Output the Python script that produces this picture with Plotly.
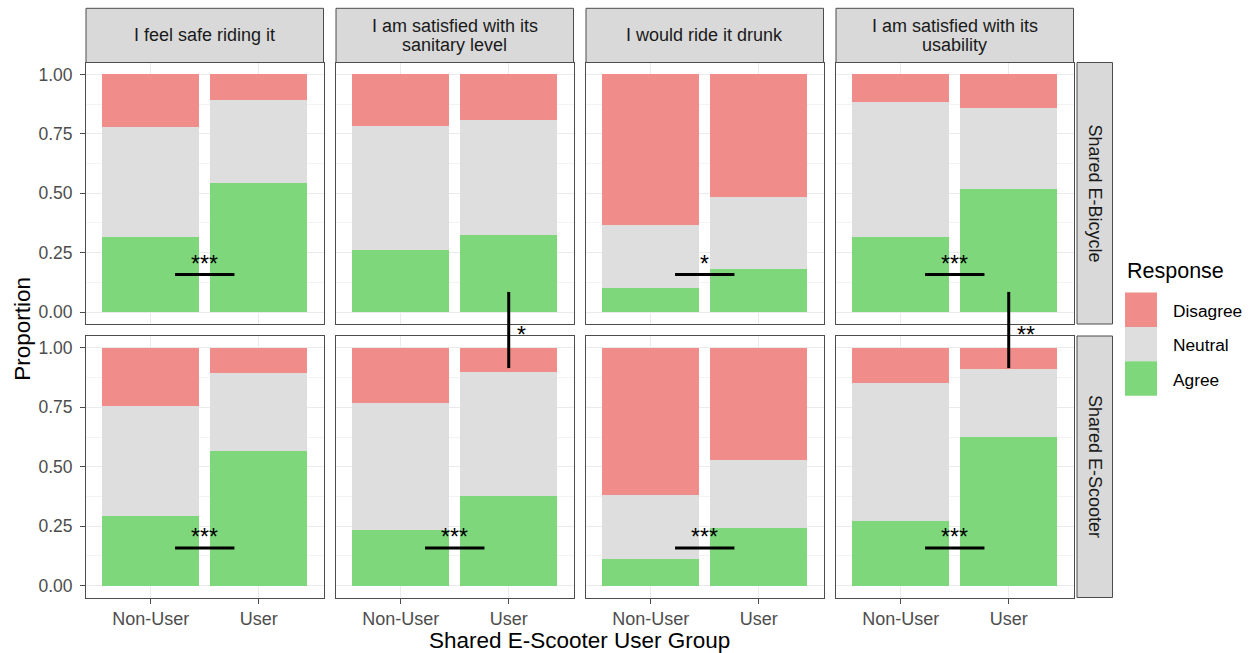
import plotly.graph_objects as go

# ---- data -------------------------------------------------------------
questions = [
    "I feel safe riding it",
    "I am satisfied with its\nsanitary level",
    "I would ride it drunk",
    "I am satisfied with its\nusability",
]
vehicles = ["Shared E-Bicycle", "Shared E-Scooter"]
groups = ["Non-User", "User"]
responses = ["Agree", "Neutral", "Disagree"]  # stacking order, bottom to top
legend_order = ["Disagree", "Neutral", "Agree"]

# proportions per question -> [Non-User, User]
agree_bicycle = [[0.318, 0.545], [0.260, 0.326], [0.102, 0.182], [0.316, 0.520]]
neutral_bicycle = [[0.461, 0.346], [0.522, 0.484], [0.265, 0.301], [0.568, 0.340]]
disagree_bicycle = [[0.221, 0.109], [0.218, 0.190], [0.633, 0.517], [0.116, 0.140]]

agree_scooter = [[0.294, 0.567], [0.232, 0.378], [0.112, 0.242], [0.272, 0.625]]
neutral_scooter = [[0.462, 0.327], [0.538, 0.522], [0.269, 0.287], [0.580, 0.285]]
disagree_scooter = [[0.244, 0.106], [0.230, 0.100], [0.619, 0.471], [0.148, 0.090]]

# significance between user groups, per question
group_sig_bicycle = ["***", "", "*", "***"]
group_sig_scooter = ["***", "***", "***", "***"]
group_sig_level = 0.158
# significance between vehicles for the User group, per question
vehicle_sig_user = ["", "*", "", "**"]
vehicle_sig_span = [0.085, 0.915]  # from bicycle panel value down to scooter panel value

y_ticks = [0.0, 0.25, 0.5, 0.75, 1.0]
y_minor = [0.125, 0.375, 0.625, 0.875]

# ---- styling ----------------------------------------------------------
colors = {"Disagree": "#F08C8A", "Neutral": "#DEDEDE", "Agree": "#7ED87B"}
FONT = "Liberation Sans, Arial, Helvetica, sans-serif"
W, H = 1250, 653
col_left = [86, 336, 586, 836]
panel_w = 237.5
row_top = [62.5, 336]
panel_h = 261.5
strip_top = 8.3
rstrip_x = (1077, 1112.5)
y_range = [-0.05, 1.05]
x_range = [-0.6, 1.6]

data = {
    "Shared E-Bicycle": {"Agree": agree_bicycle, "Neutral": neutral_bicycle, "Disagree": disagree_bicycle},
    "Shared E-Scooter": {"Agree": agree_scooter, "Neutral": neutral_scooter, "Disagree": disagree_scooter},
}
group_sig = [group_sig_bicycle, group_sig_scooter]


def px_x(x):
    return x / W


def px_y(y):
    return 1 - y / H


def to_paper(row, v):
    bottom = px_y(row_top[row] + panel_h)
    top = px_y(row_top[row])
    frac = (v - y_range[0]) / (y_range[1] - y_range[0])
    return bottom + frac * (top - bottom)


fig = go.Figure()
shapes = []
annotations = []
layout_axes = {}

for r, veh in enumerate(vehicles):
    for c, q in enumerate(questions):
        k = r * 4 + c + 1
        xname = "x" if k == 1 else f"x{k}"
        yname = "y" if k == 1 else f"y{k}"
        for resp in responses:
            fig.add_trace(go.Bar(
                x=groups,
                y=data[veh][resp][c],
                name=resp,
                marker=dict(color=colors[resp], line=dict(width=0)),
                xaxis=xname, yaxis=yname,
                showlegend=False,
                hoverinfo="skip",
            ))
        left = col_left[c]
        top = row_top[r]
        layout_axes["xaxis" if k == 1 else f"xaxis{k}"] = dict(
            type="category", range=x_range,
            domain=[px_x(left), px_x(left + panel_w)],
            anchor=yname,
            showgrid=True, gridcolor="#EBEBEB", gridwidth=1,
            showline=True, mirror=True, linecolor="#4D4D4D", linewidth=1,
            ticks="outside" if r == 1 else "", ticklen=5, tickwidth=1, tickcolor="#4D4D4D",
            showticklabels=(r == 1),
            tickfont=dict(family=FONT, size=18, color="#4D4D4D"),
            zeroline=False, fixedrange=True,
        )
        layout_axes["yaxis" if k == 1 else f"yaxis{k}"] = dict(
            range=y_range,
            domain=[px_y(top + panel_h), px_y(top)],
            anchor=xname,
            tickmode="array", tickvals=y_ticks,
            ticktext=[f"{v:.2f}" for v in y_ticks],
            showgrid=True, gridcolor="#EBEBEB", gridwidth=1,
            minor=dict(tickmode="array", tickvals=y_minor, showgrid=True,
                       gridcolor="#F3F3F3", gridwidth=0.7, ticks=""),
            showline=True, mirror=True, linecolor="#4D4D4D", linewidth=1,
            ticks="outside" if c == 0 else "", ticklen=5, tickwidth=1, tickcolor="#4D4D4D",
            showticklabels=(c == 0),
            ticklabelstandoff=4,
            tickfont=dict(family=FONT, size=17.5, color="#4D4D4D"),
            zeroline=False, fixedrange=True,
        )

        # bracket between user groups
        sig = group_sig[r][c]
        if sig:
            shapes.append(dict(type="line", xref=xname, yref=yname,
                               x0=0.225, x1=0.775, y0=group_sig_level, y1=group_sig_level,
                               line=dict(color="black", width=3)))
            annotations.append(dict(xref=xname, yref=yname, x=0.5, y=group_sig_level,
                                    text=sig, showarrow=False, yanchor="bottom",
                                    yshift=-4,
                                    font=dict(family=FONT, size=23, color="black")))

        # column strips (top row only)
        if r == 0:
            shapes.append(dict(type="rect", xref="paper", yref="paper",
                               x0=px_x(left), x1=px_x(left + panel_w),
                               y0=px_y(top), y1=px_y(strip_top),
                               fillcolor="#D9D9D9", line=dict(color="#4D4D4D", width=1),
                               layer="above"))
            lines = q.split("\n")
            mid = (strip_top + top) / 2
            step = 18.3
            for i, line in enumerate(lines):
                yy = mid + (i - (len(lines) - 1) / 2) * step
                annotations.append(dict(xref="paper", yref="paper",
                                        x=px_x(left + panel_w / 2), y=px_y(yy),
                                        text=line, showarrow=False,
                                        xanchor="center", yanchor="middle",
                                        font=dict(family=FONT, size=18, color="#1A1A1A")))

    # row strips on the right
    top = row_top[r]
    shapes.append(dict(type="rect", xref="paper", yref="paper",
                       x0=px_x(rstrip_x[0]), x1=px_x(rstrip_x[1]),
                       y0=px_y(top + panel_h), y1=px_y(top),
                       fillcolor="#D9D9D9", line=dict(color="#4D4D4D", width=1),
                       layer="above"))
    annotations.append(dict(xref="paper", yref="paper",
                            x=px_x(sum(rstrip_x) / 2), y=px_y(top + panel_h / 2),
                            text=veh, textangle=90, showarrow=False,
                            xanchor="center", yanchor="middle",
                            font=dict(family=FONT, size=18, color="#1A1A1A")))

# brackets between vehicles (User group)
for c, sig in enumerate(vehicle_sig_user):
    if not sig:
        continue
    k_top = c + 1
    xname = "x" if k_top == 1 else f"x{k_top}"
    y0 = to_paper(0, vehicle_sig_span[0])
    y1 = to_paper(1, vehicle_sig_span[1])
    shapes.append(dict(type="line", xref=xname, yref="paper",
                       x0=1, x1=1, y0=y0, y1=y1,
                       line=dict(color="black", width=3)))
    annotations.append(dict(xref=xname, yref="paper", x=1, y=(y0 + y1) / 2,
                            text=sig, showarrow=False, xanchor="left", yanchor="middle",
                            xshift=6, yshift=-5,
                            font=dict(family=FONT, size=23, color="black")))

# legend
leg_x = 1125
key_w, key_h = 32, 34.4
key_top = 292.5
annotations.append(dict(xref="paper", yref="paper", x=px_x(leg_x), y=px_y(270.5),
                        text="Response", showarrow=False, xanchor="left", yanchor="middle",
                        font=dict(family=FONT, size=21.5, color="black")))
for i, resp in enumerate(legend_order):
    t = key_top + i * key_h
    shapes.append(dict(type="rect", xref="paper", yref="paper",
                       x0=px_x(leg_x), x1=px_x(leg_x + key_w),
                       y0=px_y(t + key_h), y1=px_y(t),
                       fillcolor=colors[resp], line=dict(width=0)))
    annotations.append(dict(xref="paper", yref="paper", x=px_x(1171), y=px_y(t + key_h / 2 + 1),
                            text=resp, showarrow=False, xanchor="left", yanchor="middle",
                            font=dict(family=FONT, size=17.3, color="black")))

# axis titles
annotations.append(dict(xref="paper", yref="paper", x=px_x(579.5), y=px_y(640),
                        text="Shared E-Scooter User Group", showarrow=False,
                        xanchor="center", yanchor="middle",
                        font=dict(family=FONT, size=22.5, color="black")))
annotations.append(dict(xref="paper", yref="paper", x=px_x(21.7), y=px_y(329),
                        text="Proportion", textangle=-90, showarrow=False,
                        xanchor="center", yanchor="middle",
                        font=dict(family=FONT, size=22.5, color="black")))

fig.update_layout(
    width=W, height=H,
    margin=dict(l=0, r=0, t=0, b=0),
    paper_bgcolor="white", plot_bgcolor="white",
    barmode="stack", bargap=0.1,
    showlegend=False,
    shapes=shapes, annotations=annotations,
    font=dict(family=FONT),
    **layout_axes,
)

fig.write_html("out.html")
